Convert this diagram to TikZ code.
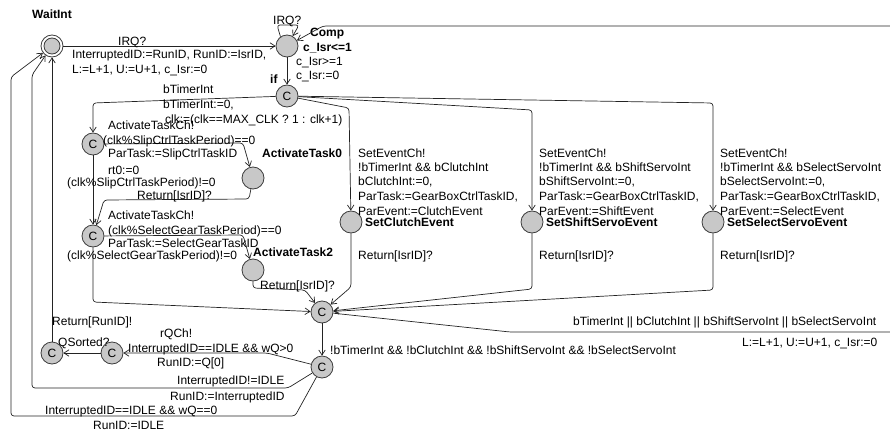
\documentclass[tikz,border=0pt]{standalone}
\usepackage{fontspec}
\setmainfont{Liberation Sans}
\usetikzlibrary{arrows.meta}
\definecolor{locfill}{RGB}{200,200,200}
\definecolor{locline}{RGB}{60,60,60}
\definecolor{edgeline}{RGB}{35,35,35}
\begin{document}
\begin{tikzpicture}[x=1pt,y=-1pt,
  loc/.style={circle,draw=locline,fill=locfill,line width=0.8pt,minimum size=22pt,inner sep=0pt,
    font=\fontsize{12}{14}\selectfont},
  tr/.style={draw=edgeline,line width=0.7pt,rounded corners=3pt,
    -{Straight Barb[length=5pt,width=6.5pt]}},
  lab/.style={anchor=base west,inner sep=0pt,font=\fontsize{12}{14}\selectfont},
  lname/.style={anchor=base west,inner sep=0pt,font=\fontsize{12}{14}\selectfont\bfseries}]
\useasboundingbox (0,0) rectangle (890,433);
\clip (0,0) rectangle (890,433);

% ---------- locations ----------
\node[loc,fill=white] (wait) at (52,46) {};
\fill[locfill,draw=locline,line width=0.8pt] (wait.center) circle (8pt);
\node[loc] (comp)   at (287,46) {};
\node[loc] (ifn)    at (287,96) {C};
\node[loc] (c1)     at (93,144) {C};
\node[loc] (at0)    at (253,178) {};
\node[loc] (c2)     at (93,236) {C};
\node[loc] (at2)    at (253,270) {};
\node[loc] (clutch) at (351,222) {};
\node[loc] (shift)  at (532,222) {};
\node[loc] (select) at (713,222) {};
\node[loc] (c3)     at (322,312) {C};
\node[loc] (c4)     at (322,367) {C};
\node[loc] (rq)     at (112,353) {C};
\node[loc] (qs)     at (52,353) {C};

% ---------- location names and invariant ----------
\node[lname] (nWait)   at (32,19)   {WaitInt};
\node[lname] (nComp)   at (310,37)  {Comp};
\node[lname] (nInv)    at (303,52)  {c\_Isr<=1};
\node[lname] (nIf)     at (270,84)  {if};
\node[lname] (nAt0)    at (262,157) {ActivateTask0};
\node[lname] (nAt2)    at (253,256) {ActivateTask2};
\node[lname] (nClutch) at (365,226) {SetClutchEvent};
\node[lname] (nShift)  at (546,226) {SetShiftServoEvent};
\node[lname] (nSelect) at (727,226) {SetSelectServoEvent};

% ---------- transitions ----------
\draw[tr] (wait) -- (comp);
\draw[tr] (comp.125) -- (277,25) -- (299,25) -- (comp.60);
\draw[tr] (comp) -- (ifn);
\draw[tr] (ifn) -- (93,103) -- (c1);
\draw[tr] (ifn) -- (349,108) -- (clutch);
\draw[tr] (ifn) -- (532,110) -- (shift);
\draw[tr] (ifn) -- (713,103) -- (select);
\draw[tr] (c1) -- (243,143) -- (at0);
\draw[tr] (c1) -- (c2);
\draw[tr] (at0) -- (249,199) -- (104,200) -- (c2);
\draw[tr] (c2) -- (243,235) -- (at2);
\draw[tr] (c2) -- (93,302) -- (c3);
\draw[tr] (at2) -- (253,288) -- (305,290) -- (c3);
\draw[tr] (clutch) -- (351,287) -- (c3);
\draw[tr] (shift) -- (532,289) -- (c3);
\draw[tr] (select) -- (713,290) -- (c3);
\draw[tr] (c3) -- (510,332) -- (905,332) -- (905,26) -- (323,26) -- (comp);
\draw[tr] (c3) -- (c4);
\draw[tr] (c4) -- (267,353) -- (rq);
\draw[tr] (rq) -- (qs);
\draw[tr] (qs) -- (wait);
\draw[tr] (c4) -- (288,388) -- (32,388) -- (32,75) -- (wait);
\draw[tr] (c4) -- (295,416) -- (11,416) -- (11,77) -- (wait);

% ---------- transition labels ----------
\node[lab] (l1)  at (118,46) {IRQ?};
\node[lab] (l2)  at (72,59)  {InterruptedID:=RunID, RunID:=IsrID,};
\node[lab] (l3)  at (72,74)  {L:=L+1, U:=U+1, c\_Isr:=0};
\node[lab] (l4)  at (273,25) {IRQ?};
\node[lab] (l5)  at (296,66) {c\_Isr>=1};
\node[lab] (l6)  at (296,80) {c\_Isr:=0};

\node[lab] (l7)  at (163,94)  {bTimerInt};
\node[lab] (l8)  at (163,109) {bTimerInt:=0,};
\node[lab] (l9)  at (165,124) {clk:=(clk==MAX\_CLK ? 1 : clk+1)};

\node[lab] (l10) at (108,129) {ActivateTaskCh!};
\node[lab] (l11) at (103,144) {(clk\%SlipCtrlTaskPeriod)==0};
\node[lab] (l12) at (108,157) {ParTask:=SlipCtrlTaskID};
\node[lab] (l13) at (108,174) {rt0:=0};
\node[lab] (l14) at (67,186)  {(clk\%SlipCtrlTaskPeriod)!=0};
\node[lab] (l15) at (137,199) {Return[IsrID]?};

\node[lab] (l16) at (108,219) {ActivateTaskCh!};
\node[lab] (l17) at (108,234) {(clk\%SelectGearTaskPeriod)==0};
\node[lab] (l18) at (108,247) {ParTask:=SelectGearTaskID};
\node[lab] (l19) at (67,259)  {(clk\%SelectGearTaskPeriod)!=0};
\node[lab] (l20) at (260,289) {Return[IsrID]?};

\node[lab] (l21) at (358,157) {SetEventCh!};
\node[lab] (l22) at (358,171) {!bTimerInt \&\& bClutchInt};
\node[lab] (l23) at (358,185) {bClutchInt:=0,};
\node[lab] (l24) at (358,200) {ParTask:=GearBoxCtrlTaskID,};
\node[lab] (l25) at (358,215) {ParEvent:=ClutchEvent};
\node[lab] (l26) at (358,259) {Return[IsrID]?};

\node[lab] (l27) at (539,157) {SetEventCh!};
\node[lab] (l28) at (539,171) {!bTimerInt \&\& bShiftServoInt};
\node[lab] (l29) at (539,185) {bShiftServoInt:=0,};
\node[lab] (l30) at (539,200) {ParTask:=GearBoxCtrlTaskID,};
\node[lab] (l31) at (539,215) {ParEvent:=ShiftEvent};
\node[lab] (l32) at (539,259) {Return[IsrID]?};

\node[lab] (l33) at (720,157) {SetEventCh!};
\node[lab] (l34) at (720,171) {!bTimerInt \&\& bSelectServoInt};
\node[lab] (l35) at (720,185) {bSelectServoInt:=0,};
\node[lab] (l36) at (720,200) {ParTask:=GearBoxCtrlTaskID,};
\node[lab] (l37) at (720,215) {ParEvent:=SelectEvent};
\node[lab] (l38) at (720,259) {Return[IsrID]?};

\node[lab] (l39) at (573,325) {bTimerInt || bClutchInt || bShiftServoInt || bSelectServoInt};
\node[lab] (l40) at (742,346) {L:=L+1, U:=U+1, c\_Isr:=0};
\node[lab] (l41) at (330,354) {!bTimerInt \&\& !bClutchInt \&\& !bShiftServoInt \&\& !bSelectServoInt};

\node[lab] (l42) at (52,325)  {Return[RunID]!};
\node[lab] (l43) at (58,346)  {QSorted?};
\node[lab] (l44) at (160,337) {rQCh!};
\node[lab] (l45) at (128,352) {InterruptedID==IDLE \&\& wQ>0};
\node[lab] (l46) at (157,366) {RunID:=Q[0]};
\node[lab] (l47) at (177,384) {InterruptedID!=IDLE};
\node[lab] (l48) at (170,400) {RunID:=InterruptedID};
\node[lab] (l49) at (45,414)  {InterruptedID==IDLE \&\& wQ==0};
\node[lab] (l50) at (93,429)  {RunID:=IDLE};
\end{tikzpicture}
\end{document}
